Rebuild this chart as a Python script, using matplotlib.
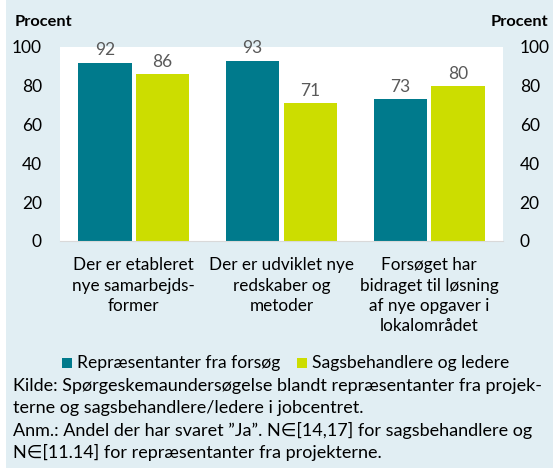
import matplotlib.pyplot as plt
import numpy as np
from matplotlib.patches import Rectangle

plt.rcParams['font.family'] = ['Lato', 'DejaVu Sans']

categories = ['Der er etableret\nnye samarbejds-\nformer',
              'Der er udviklet nye\nredskaber og\nmetoder',
              'Forsøget har\nbidraget til løsning\naf nye opgaver i\nlokalområdet']
repr_vals = [92, 93, 73]
sags_vals = [86, 71, 80]
series_names = ['Repræsentanter fra forsøg', 'Sagsbehandlere og ledere']
yticks = [0, 20, 40, 60, 80, 100]

teal = '#007A8C'
lime = '#CCDD00'
bg = '#E1EEF3'

W, H = 553, 468
fig = plt.figure(figsize=(W / 100, H / 100), dpi=100)
fig.patch.set_facecolor('white')
# light panel behind everything
fig.patches.append(Rectangle((6 / W, 0), 1, 1, transform=fig.transFigure,
                             facecolor=bg, edgecolor='none', zorder=-10))

ax = fig.add_axes([60 / W, 1 - 241 / H, 443 / W, 194 / H])
ax.set_facecolor('white')

x = np.arange(len(categories))
bw = 0.36
off = 0.195
b1 = ax.bar(x - off, repr_vals, bw, color=teal, label=series_names[0])
b2 = ax.bar(x + off, sags_vals, bw, color=lime, label=series_names[1])
for bars in (b1, b2):
    ax.bar_label(bars, padding=3, fontsize=12.5, color='#595959')

ax.set_xlim(-0.5, 2.5)
ax.set_ylim(0, 100)
ax.set_xticks([])
ax.set_yticks(yticks)
ax.tick_params(axis='y', length=0, labelsize=12.5, pad=13)
for s in ['top', 'left', 'right']:
    ax.spines[s].set_visible(False)
ax.spines['bottom'].set_color('#D9D9D9')

ax2 = ax.twinx()
ax2.set_ylim(0, 100)
ax2.set_yticks(yticks)
ax2.tick_params(axis='y', length=0, labelsize=12.5, pad=12)
for s in ax2.spines.values():
    s.set_visible(False)

# category labels
for i, c in enumerate(categories):
    ax.text(i, -0.085, c, transform=ax.get_xaxis_transform(), ha='center', va='top',
            fontsize=12.3, linespacing=1.33)

fig.text(15 / W, 1 - 22 / H, 'Procent', fontsize=11.8, fontweight='bold', va='center')
fig.text(548 / W, 1 - 22 / H, 'Procent', fontsize=11.8, fontweight='bold', va='center', ha='right')
fig.text(110 / W, 1 + 18 / H, 'g', fontsize=22, fontweight='bold', color=teal, va='center')

# legend
fig.patches.append(Rectangle((62 / W, 1 - 368 / H), 10 / W, 10 / H, transform=fig.transFigure,
                             facecolor=teal, edgecolor='none'))
fig.text(77 / W, 1 - 363 / H, series_names[0], fontsize=12.6, va='center')
fig.patches.append(Rectangle((297 / W, 1 - 368 / H), 10 / W, 10 / H, transform=fig.transFigure,
                             facecolor=lime, edgecolor='none'))
fig.text(312 / W, 1 - 363 / H, series_names[1], fontsize=12.6, va='center')

notes = ['Kilde: Spørgeskemaundersøgelse blandt repræsentanter fra projek-',
         'terne og sagsbehandlere/ledere i jobcentret.',
         'Anm.: Andel der har svaret ”Ja”. N∈[14,17] for sagsbehandlere og',
         'N∈[11.14] for repræsentanter fra projekterne.']
for k, n in enumerate(notes):
    fig.text(13 / W, 1 - (386 + 22.3 * k) / H, n, fontsize=13, va='center')

fig.savefig('out.png', dpi=100)
